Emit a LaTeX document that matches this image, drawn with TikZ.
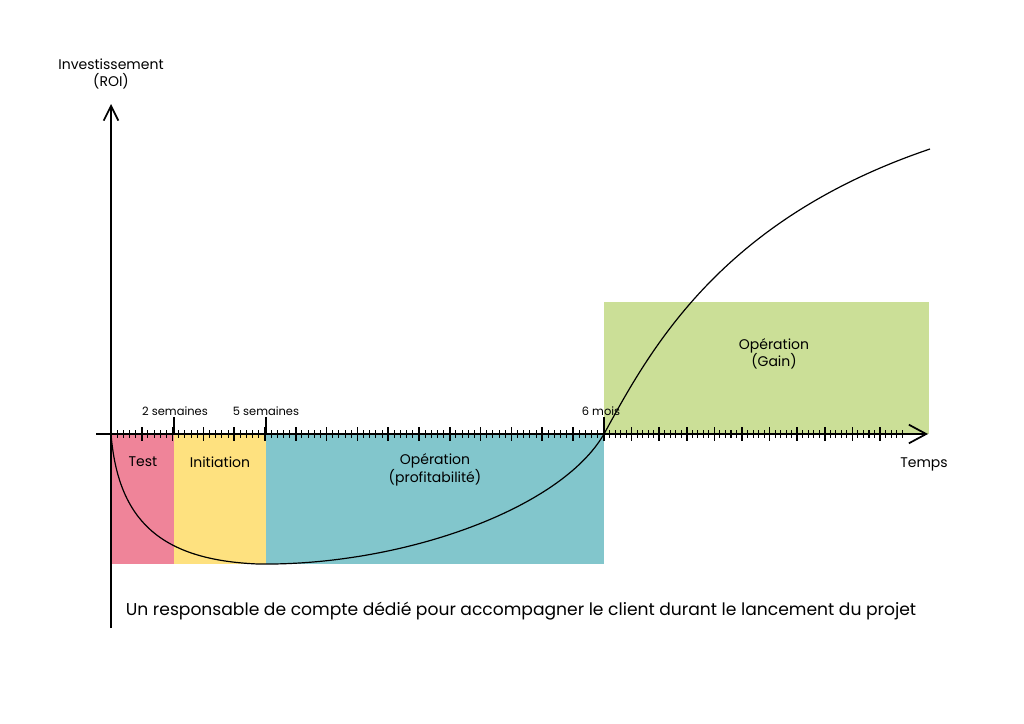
\documentclass[tikz,border=0pt]{standalone}
\usepackage{fontspec}
\setmainfont{Poppins}
\usetikzlibrary{arrows.meta}

\definecolor{testpink}{RGB}{239,132,153}
\definecolor{inityellow}{RGB}{254,225,127}
\definecolor{opteal}{RGB}{130,198,204}
\definecolor{gaingreen}{RGB}{203,223,151}

\begin{document}
\begin{tikzpicture}[x=0.75pt,y=-0.75pt]
  \tikzstyle{every node}=[inner sep=0pt,align=center,font=\fontsize{10.5}{13}\selectfont]
  \tikzstyle{axis}=[line width=1.3pt]
  \tikzstyle{phase}=[draw=none]
  \tikzstyle{ticklabel}=[font=\fontsize{8.6}{10}\selectfont,anchor=base]
  \tikzstyle{minortick}=[line width=0.8pt]
  \tikzstyle{midtick}=[line width=1.1pt]
  \useasboundingbox (0,0) rectangle (1024,724);

  % Define the phases
  \fill[phase,testpink] (111,434) rectangle (174,564);
  \fill[phase,inityellow] (174,434) rectangle (266,564);
  \fill[phase,opteal] (266,434) rectangle (604,564);
  \fill[phase,gaingreen] (604,302) rectangle (929,434);

  % Define the axes
  \coordinate (origin) at (111,434);
  \coordinate (ybot) at (111,628);
  \coordinate (ytop) at (111,104);
  \coordinate (xleft) at (96,434);
  \coordinate (xright) at (928,434);
  \draw[axis,-{Straight Barb[length=11pt,width=11pt]}] (ybot) -- (ytop);
  \draw[axis,-{Straight Barb[length=13pt,width=14pt]}] (xleft) -- (xright);

  % Draw the ticks before 6 mois
  \foreach \k in {0,...,15} {
    \draw[midtick] ({111+30.8*\k},427) -- ({111+30.8*\k},441);
    \foreach \m in {1,...,4} {
      \draw[minortick] ({111+30.8*\k+6.16*\m},430) -- ({111+30.8*\k+6.16*\m},438);
    }
  }
  % Draw the ticks after 6 mois
  \foreach \k in {0,...,10} {
    \draw[midtick] ({604+27.6*\k},427) -- ({604+27.6*\k},441);
    \foreach \m in {1,...,4} {
      \draw[minortick] ({604+27.6*\k+5.52*\m},430) -- ({604+27.6*\k+5.52*\m},438);
    }
  }
  % Draw the milestones
  \foreach \x in {174,266,604} {
    \draw[axis] (\x,417) -- (\x,435);
  }
  \node[ticklabel] (twoweeks) at (175,415) {2 semaines};
  \node[ticklabel] (fiveweeks) at (266,415) {5 semaines};
  \node[ticklabel] (sixmonths) at (601,415) {6 mois};

  % Draw the labels
  \node (yaxislabel) at (111,74) {Investissement\\(ROI)};
  \node (xaxislabel) at (924,464) {Temps};
  \node (test) at (143,462) {Test};
  \node (initiation) at (220,462) {Initiation};
  \node (profit) at (435,470) {Opération\\(profitabilité)};
  \node (gain) at (774,354) {Opération\\(Gain)};
  \node[font=\fontsize{12.85}{15}\selectfont] (manager) at (521,611)
    {Un responsable de compte dédié pour accompagner le client durant le lancement du projet};

  % Draw the ROI curve
  \draw[line width=0.9pt] (origin) .. controls (118,520) and (160,560) .. (258,564)
    .. controls (400,566) and (560,510) .. (604,434)
    .. controls (650,350) and (720,220) .. (930,149);
\end{tikzpicture}
\end{document}
